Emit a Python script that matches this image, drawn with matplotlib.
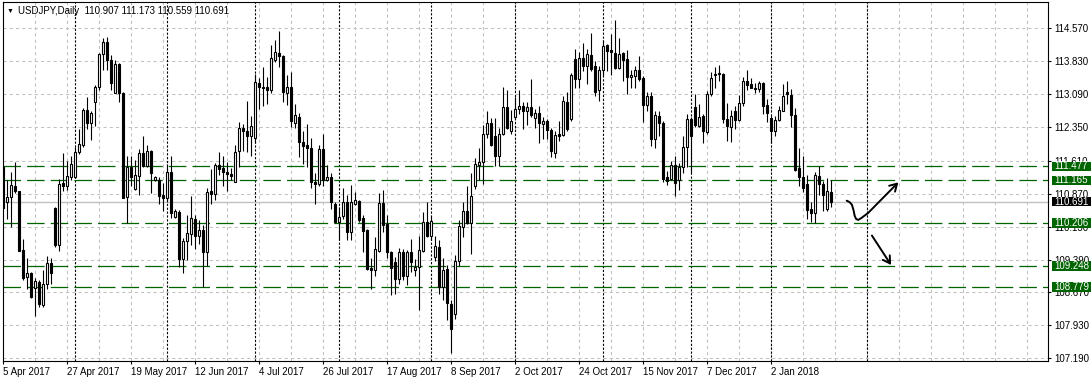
import matplotlib
matplotlib.use('Agg')
import matplotlib.pyplot as plt
import matplotlib.transforms as mtransforms
from matplotlib.patches import Rectangle
import numpy as np

plt.rcParams['font.family'] = ['Liberation Sans', 'DejaVu Sans']

# daily USDJPY bars, 5 Apr 2017 .. 23 Jan 2018
opens = [111.47, 110.69, 110.79, 111.03, 110.92, 109.61, 109.01, 109.09, 108.75, 108.90,
         108.38, 108.85, 109.31, 110.54, 109.72, 111.10, 111.03, 111.25, 111.24, 111.81,
         111.96, 112.74, 112.46, 112.93, 113.25, 113.99, 114.26, 113.86, 113.13, 113.77,
         113.13, 110.80, 111.47, 110.97, 111.27, 111.77, 111.49, 111.82, 111.18, 111.18,
         110.84, 110.77, 111.35, 110.34, 110.45, 109.40, 109.80, 109.96, 110.30, 109.93,
         110.06, 109.55, 110.93, 110.85, 111.51, 111.44, 111.35, 111.31, 111.14, 111.83,
         112.33, 112.28, 112.15, 112.11, 113.34, 113.26, 113.25, 113.18, 113.85, 114.01,
         113.95, 113.13, 113.25, 112.44, 112.59, 112.02, 111.96, 111.90, 111.12, 111.09,
         111.86, 111.18, 111.24, 110.64, 110.24, 110.36, 110.68, 110.02, 110.64, 110.71,
         110.32, 110.06, 109.21, 109.15, 109.59, 110.65, 110.19, 109.56, 109.33, 108.95,
         109.56, 109.03, 109.56, 109.15, 109.22, 109.59, 110.23, 109.93, 109.46, 109.67,
         108.77, 109.18, 108.40, 108.17, 109.35, 110.12, 110.48, 110.21, 111.05, 111.51,
         111.57, 112.20, 112.44, 112.15, 111.70, 112.20, 112.80, 112.26, 112.59, 112.76,
         112.82, 112.73, 112.80, 112.57, 112.67, 112.42, 112.50, 112.29, 111.77, 112.20,
         112.18, 112.91, 112.53, 113.88, 113.43, 113.90, 113.73, 113.97, 113.73, 113.18,
         113.64, 114.20, 114.09, 114.01, 113.69, 114.01, 113.88, 113.47, 113.50, 113.64,
         113.45, 112.85, 113.06, 112.09, 112.61, 112.44, 111.23, 111.19, 111.50, 111.18,
         111.47, 111.91, 112.54, 112.80, 112.39, 112.61, 112.24, 113.09, 113.55, 113.58,
         113.54, 112.54, 112.37, 112.72, 112.52, 112.89, 113.39, 113.32, 113.24, 113.21,
         113.35, 112.85, 112.56, 112.26, 112.52, 112.73, 113.15, 113.08, 112.63, 111.44,
         111.24, 111.09, 110.52, 110.43, 111.27, 111.09, 110.52, 110.907]
highs = [111.50, 111.18, 111.36, 111.57, 110.93, 109.85, 109.42, 109.12, 108.98, 108.94,
         109.16, 109.48, 109.42, 110.58, 111.19, 111.77, 111.59, 111.72, 111.92, 112.31,
         112.78, 113.04, 112.71, 113.30, 114.01, 114.35, 114.37, 113.97, 113.86, 113.80,
         113.15, 111.72, 111.70, 111.62, 111.86, 112.15, 111.96, 111.85, 111.27, 111.24,
         111.10, 111.53, 111.72, 110.52, 110.50, 109.87, 110.39, 110.82, 110.39, 110.28,
         110.17, 110.99, 111.41, 111.56, 111.79, 111.72, 111.57, 111.44, 111.96, 112.47,
         112.42, 112.95, 112.61, 113.55, 113.45, 113.71, 113.49, 114.20, 114.31, 114.51,
         113.97, 113.53, 113.60, 112.88, 112.67, 112.26, 112.43, 112.11, 111.34, 111.96,
         112.20, 111.51, 111.33, 110.67, 110.58, 110.99, 110.84, 111.06, 110.91, 110.73,
         110.38, 110.07, 109.42, 109.89, 110.88, 110.95, 110.39, 109.59, 109.46, 109.65,
         109.63, 109.61, 109.85, 109.40, 109.91, 110.45, 110.67, 110.36, 109.92, 109.83,
         109.42, 109.27, 108.49, 109.50, 110.27, 110.68, 111.04, 111.32, 111.66, 111.88,
         112.41, 112.72, 112.56, 112.56, 112.33, 113.25, 113.20, 112.74, 113.04, 113.19,
         112.93, 112.91, 113.43, 112.76, 112.83, 112.58, 112.53, 112.33, 112.27, 112.50,
         113.06, 113.15, 113.58, 114.10, 114.05, 114.25, 114.10, 114.46, 113.84, 113.73,
         114.31, 114.23, 114.44, 114.76, 114.36, 114.03, 114.09, 113.64, 113.73, 113.94,
         113.50, 113.15, 113.15, 112.72, 112.72, 112.50, 111.38, 111.61, 111.70, 111.55,
         112.16, 112.65, 112.58, 113.10, 112.87, 112.65, 113.17, 113.60, 113.70, 113.75,
         113.56, 112.89, 112.74, 112.83, 113.08, 113.49, 113.64, 113.45, 113.35, 113.40,
         113.36, 112.98, 112.61, 112.61, 112.84, 113.32, 113.39, 113.21, 112.78, 111.88,
         111.70, 111.29, 110.67, 111.35, 111.49, 111.16, 111.21, 111.173]
lows = [110.50, 110.30, 110.13, 110.88, 109.58, 108.94, 108.73, 108.53, 108.12, 108.32,
        108.34, 108.73, 108.85, 109.67, 109.59, 110.92, 110.95, 111.18, 111.21, 111.76,
        111.92, 112.31, 112.07, 112.38, 113.19, 113.64, 113.64, 113.20, 113.12, 112.93,
        110.77, 110.21, 111.03, 110.94, 110.84, 111.46, 111.47, 110.88, 111.16, 110.64,
        110.49, 110.67, 110.32, 110.32, 109.22, 109.10, 109.39, 109.72, 109.62, 109.74,
        108.77, 109.25, 110.64, 110.73, 111.29, 111.05, 110.93, 111.18, 111.12, 111.46,
        111.83, 111.81, 111.72, 112.01, 112.76, 112.82, 112.88, 113.12, 113.82, 113.71,
        112.93, 112.85, 112.35, 112.33, 111.68, 111.53, 111.47, 111.00, 110.63, 111.05,
        111.05, 111.16, 110.53, 110.21, 109.86, 110.30, 109.83, 109.83, 110.62, 110.23,
        109.55, 109.16, 108.73, 109.03, 109.57, 110.02, 109.42, 108.59, 108.62, 108.85,
        108.94, 108.83, 109.11, 109.03, 108.27, 109.55, 109.89, 109.83, 109.37, 108.62,
        108.49, 108.03, 107.31, 108.06, 109.24, 109.89, 110.19, 109.52, 110.97, 111.18,
        111.09, 112.12, 111.94, 111.49, 111.49, 112.18, 112.32, 112.20, 112.57, 112.65,
        112.31, 112.41, 112.59, 112.33, 112.00, 112.09, 112.09, 111.68, 111.66, 112.05,
        112.16, 112.28, 112.50, 113.24, 113.24, 113.62, 113.32, 113.62, 113.06, 112.95,
        113.50, 113.62, 113.53, 113.67, 113.65, 113.40, 113.09, 113.23, 113.24, 113.40,
        112.48, 112.73, 111.94, 111.88, 112.17, 111.14, 111.06, 111.18, 110.82, 110.94,
        111.34, 111.46, 111.34, 112.35, 112.37, 112.00, 112.20, 113.06, 113.24, 113.38,
        112.46, 112.05, 112.03, 112.31, 112.50, 112.83, 113.19, 113.23, 113.12, 113.15,
        112.65, 112.48, 112.01, 112.16, 112.50, 112.71, 112.88, 112.37, 111.38, 111.03,
        110.91, 110.30, 110.23, 110.21, 110.84, 110.49, 110.47, 110.559]
closes = [110.54, 110.79, 111.06, 110.92, 109.59, 108.99, 109.09, 108.55, 108.92, 108.40,
          108.84, 109.31, 109.09, 109.72, 111.09, 111.03, 111.27, 111.53, 111.81, 111.97,
          112.74, 112.46, 112.67, 113.25, 113.99, 114.26, 113.85, 113.34, 113.77, 113.12,
          110.78, 111.47, 111.25, 111.29, 111.77, 111.49, 111.82, 111.33, 111.24, 110.82,
          110.77, 111.35, 110.43, 110.47, 109.40, 109.81, 109.98, 110.32, 109.93, 110.06,
          109.55, 110.91, 110.87, 111.51, 111.42, 111.35, 111.31, 111.27, 111.81, 112.33,
          112.28, 112.16, 112.38, 113.36, 113.26, 113.23, 113.19, 113.90, 114.03, 113.94,
          113.15, 113.25, 112.50, 112.62, 112.03, 111.94, 111.88, 111.12, 111.08, 111.86,
          111.18, 111.24, 110.67, 110.24, 110.34, 110.68, 110.02, 110.68, 110.73, 110.28,
          110.04, 109.18, 109.16, 109.62, 110.65, 110.17, 109.55, 109.20, 108.95, 109.56,
          109.03, 109.56, 109.33, 109.22, 109.61, 110.23, 109.93, 110.26, 109.70, 108.77,
          109.16, 108.42, 107.83, 109.36, 110.15, 110.47, 110.21, 110.82, 111.53, 111.57,
          112.20, 112.44, 111.96, 111.72, 112.20, 112.80, 112.33, 112.50, 112.76, 112.82,
          112.73, 112.80, 112.63, 112.67, 112.44, 112.50, 112.29, 111.83, 112.18, 112.17,
          112.94, 112.32, 113.53, 113.43, 113.90, 113.73, 113.99, 113.66, 113.15, 113.64,
          114.17, 114.07, 114.05, 113.69, 114.00, 113.86, 113.47, 113.53, 113.64, 113.44,
          112.85, 113.06, 112.09, 112.63, 112.44, 111.20, 111.16, 111.51, 111.10, 111.47,
          111.92, 112.54, 112.17, 112.41, 112.59, 112.28, 113.09, 113.45, 113.53, 113.55,
          112.53, 112.38, 112.61, 112.52, 112.89, 113.39, 113.30, 113.24, 113.22, 113.34,
          112.84, 112.67, 112.26, 112.52, 112.74, 113.06, 113.09, 112.63, 111.40, 111.23,
          111.00, 110.50, 110.43, 111.29, 111.09, 110.83, 110.93, 110.691]

date_labels = ['5 Apr 2017', '27 Apr 2017', '19 May 2017', '12 Jun 2017', '4 Jul 2017',
               '26 Jul 2017', '17 Aug 2017', '8 Sep 2017', '2 Oct 2017', '24 Oct 2017',
               '15 Nov 2017', '7 Dec 2017', '2 Jan 2018']
bars_per_label = 16
month_start_bars = [18, 41, 63, 84, 107, 128, 150, 172, 192, 216]

price_ticks = [114.570, 113.830, 113.090, 112.350, 111.610, 110.870,
               110.130, 109.390, 108.670, 107.930, 107.190]
levels = [111.477, 111.165, 110.206, 109.248, 108.779]
last_price = 110.691
header = 'USDJPY,Daily  110.907 111.173 110.559 110.691'

# hand drawn arrows (bar index, price)
curve_x = [210.9, 211.6, 212.2, 212.6, 212.9, 213.25, 213.8, 214.7, 216.3, 223.8]
curve_y = [110.71, 110.68, 110.62, 110.50, 110.37, 110.30, 110.28, 110.33, 110.44, 111.12]
down_x = [217.2, 222.0]
down_y = [109.93, 109.27]

GREEN = '#006400'
GRID = '#c0c0c0'
W, H = 1091, 382

fig = plt.figure(figsize=(W / 100, H / 100), dpi=100)
ax = fig.add_axes([2.5 / W, 21 / H, (1048.3 - 2.5) / W, 359 / H])
ax.set_xlim(-0.15, 261.3)
ax.set_ylim(107.12, 115.16)

# grid
for k in range(8, 262, 8):
    ax.axvline(k, color=GRID, lw=0.75, ls=(0, (3, 3)), zorder=1)
for p in price_ticks:
    ax.axhline(p, color=GRID, lw=0.75, ls=(0, (3, 3)), zorder=1)

# month separators
for m in month_start_bars:
    ax.axvline(m, color='black', lw=0.8, ls=(0, (2, 1.5)), zorder=1.5)

ax.axhline(last_price, color=GRID, lw=1, zorder=1.5)
for lv in levels:
    ax.axhline(lv, color=GREEN, lw=0.9, ls=(0, (14, 4.9)), zorder=2)

# candles
o = np.array(opens)
h = np.array(highs)
l = np.array(lows)
c = np.array(closes)
x = np.arange(len(o))
up = c >= o
ax.vlines(x, l, h, color='black', lw=0.8, zorder=3)
ax.bar(x[up], c[up] - o[up], bottom=o[up], width=0.5, color='white',
       edgecolor='black', lw=0.8, zorder=4)
ax.bar(x[~up], c[~up] - o[~up], bottom=o[~up], width=0.5, color='black',
       edgecolor='black', lw=0.8, zorder=4)

# arrows
ax.plot(curve_x[:-1], curve_y[:-1], color='black', lw=1.4,
        solid_capstyle='round', solid_joinstyle='round', zorder=5)
ax.annotate('', xy=(curve_x[-1], curve_y[-1]), xytext=(curve_x[-2], curve_y[-2]),
            arrowprops=dict(arrowstyle='->,head_length=0.5,head_width=0.3',
                            color='black', lw=1.4, shrinkA=0, shrinkB=0), zorder=5)
ax.annotate('', xy=(down_x[1], down_y[1]), xytext=(down_x[0], down_y[0]),
            arrowprops=dict(arrowstyle='->,head_length=0.5,head_width=0.3',
                            color='black', lw=1.4, shrinkA=0, shrinkB=0), zorder=5)

# axes
ax.set_xticks(np.arange(len(date_labels)) * bars_per_label)
ax.set_xticklabels(date_labels, ha='left', fontsize=7)
ax.tick_params(axis='x', direction='out', length=2.5, width=0.8, pad=2)
ax.yaxis.tick_right()
ax.set_yticks(price_ticks)
ax.set_yticklabels([f'{p:.3f}' for p in price_ticks], fontsize=7)
ax.tick_params(axis='y', direction='out', length=2.5, width=0.8, pad=1.5)
for s in ax.spines.values():
    s.set_linewidth(0.8)

# price labels on the right
trans = mtransforms.blended_transform_factory(fig.transFigure, ax.transData)
box_h = 0.215
for lv, col in [(v, GREEN) for v in levels] + [(last_price, 'black')]:
    ax.add_patch(Rectangle((1051.5 / W, lv - box_h / 2), (W - 1051.5) / W, box_h,
                           transform=trans, facecolor=col, edgecolor='none',
                           clip_on=False, zorder=10))
    ax.text(1054 / W, lv, f'{lv:.3f}', transform=trans, color='white', fontsize=7,
            va='center', ha='left', clip_on=False, zorder=11)

# header
fig.text(7 / W, 1 - 11 / H, '\u25bc', fontsize=5, va='center', ha='left')
fig.text(18 / W, 1 - 11 / H, header, fontsize=7, va='center', ha='left')

fig.savefig('out.png', dpi=100, facecolor='white')
